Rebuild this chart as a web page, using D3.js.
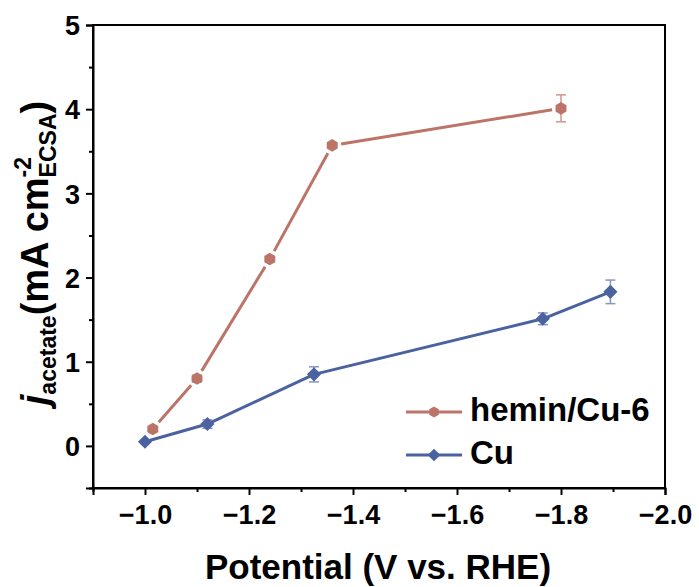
<!DOCTYPE html>
<html>
<head>
<meta charset="utf-8">
<script src="https://cdn.jsdelivr.net/npm/d3@7/dist/d3.min.js"></script>
<style>
  html, body { margin: 0; padding: 0; background: #fff; }
  svg { display: block; font-family: "Liberation Sans", Arial, sans-serif; }
</style>
</head>
<body>
<svg id="chart" width="699" height="587"></svg>
<script>
// Acetate partial current density vs. potential
const heminPotential = [-1.015, -1.10, -1.24, -1.36, -1.80];
const heminCurrent   = [0.20, 0.80, 2.22, 3.57, 4.01];
const heminError     = [0.02, 0.04, 0.03, 0.02, 0.16];

const cuPotential = [-1.00, -1.12, -1.325, -1.765, -1.895];
const cuCurrent   = [0.05, 0.26, 0.85, 1.51, 1.83];
const cuError     = [0.02, 0.05, 0.09, 0.07, 0.14];

const xMajorTicks = [-1.0, -1.2, -1.4, -1.6, -1.8, -2.0];
const xMinorTicks = [-0.9, -1.1, -1.3, -1.5, -1.7, -1.9];
const yMajorTicks = [0, 1, 2, 3, 4, 5];
const yMinorTicks = [-0.5, 0.5, 1.5, 2.5, 3.5, 4.5];

const seriesNames = ["hemin/Cu-6", "Cu"];

const heminColor = "#bd7468", heminErrColor = "#cc968e";
const cuColor = "#4a62a0", cuErrColor = "#8596c2";

const svg = d3.select("#chart");
const plot = { left: 93, right: 665, top: 25, bottom: 488 };

const x = d3.scaleLinear().domain([-0.9, -2.0]).range([plot.left, plot.right]);
const y = d3.scaleLinear().domain([-0.5, 5]).range([plot.bottom, plot.top]);

const fmt = d => d3.format(".1f")(d).replace("-", "\u2212");

// frame
svg.append("rect")
  .attr("x", plot.left).attr("y", plot.top)
  .attr("width", plot.right - plot.left).attr("height", plot.bottom - plot.top)
  .attr("fill", "none").attr("stroke", "#000").attr("stroke-width", 2);

// bottom axis
const xAxis = svg.append("g").attr("transform", `translate(0,${plot.bottom})`)
  .call(d3.axisBottom(x).tickValues(xMajorTicks).tickFormat(fmt).tickSize(7).tickPadding(10));
svg.append("g").attr("transform", `translate(0,${plot.bottom})`)
  .call(d3.axisBottom(x).tickValues(xMinorTicks).tickFormat("").tickSize(4))
  .call(g => g.select(".domain").remove());

// left axis
const yAxis = svg.append("g").attr("transform", `translate(${plot.left},0)`)
  .call(d3.axisLeft(y).tickValues(yMajorTicks).tickFormat(d3.format("d")).tickSize(7).tickPadding(6));
svg.append("g").attr("transform", `translate(${plot.left},0)`)
  .call(d3.axisLeft(y).tickValues(yMinorTicks).tickFormat("").tickSize(4))
  .call(g => g.select(".domain").remove());

svg.selectAll(".tick line").attr("stroke", "#000").attr("stroke-width", 2);
svg.selectAll(".domain").attr("stroke", "#000").attr("stroke-width", 2);
svg.selectAll(".tick text")
  .attr("fill", "#000")
  .style("font-size", "27px").style("font-weight", "bold")
  .style("font-family", "'Liberation Sans', Arial, sans-serif");
xAxis.selectAll(".tick text").attr("dy", "0.72em");
yAxis.selectAll(".tick text").attr("dy", "0.36em");

// axis titles
svg.append("text")
  .attr("x", (plot.left + plot.right) / 2 - 1).attr("y", 579)
  .attr("text-anchor", "middle")
  .style("font-size", "35px").style("font-weight", "bold")
  .text("Potential (V vs. RHE)");

const yTitle = svg.append("text")
  .attr("transform", "translate(48,253) rotate(-90)")
  .attr("text-anchor", "middle")
  .style("font-weight", "bold");
yTitle.append("tspan").style("font-size", "38px").style("font-style", "italic").text("j");
yTitle.append("tspan").style("font-size", "23px").attr("dy", 8).text("acetate");
yTitle.append("tspan").style("font-size", "38px").attr("dy", -8).text("(mA cm");
const sup = yTitle.append("tspan").style("font-size", "23px").attr("dy", -17).text("-2");
const sub = yTitle.append("tspan").style("font-size", "23px").attr("dy", 25).text("ECSA");
yTitle.append("tspan").style("font-size", "38px").attr("dy", -8).text(")");
sub.attr("dx", -sup.node().getComputedTextLength());

// marker shapes
const hexPath = r => {
  const pts = d3.range(6).map(i => {
    const a = Math.PI / 6 + i * Math.PI / 3;
    return [r * Math.cos(a), r * Math.sin(a)];
  });
  return d3.line()(pts) + "Z";
};
const diamondPath = d3.symbol().type(d3.symbolSquare).size(100)();

function drawSeries(xs, ys, es, color, errColor, marker, rotate, gap) {
  const pts = xs.map((v, i) => ({ px: x(v), py: y(ys[i]), c: ys[i], e: es[i] }));
  const g = svg.append("g");
  // connecting segments, trimmed near markers when a gap is given
  for (let i = 0; i < pts.length - 1; i++) {
    const a = pts[i], b = pts[i + 1];
    const dx = b.px - a.px, dy = b.py - a.py, len = Math.hypot(dx, dy);
    const ux = dx / len, uy = dy / len;
    g.append("line")
      .attr("x1", a.px + ux * gap).attr("y1", a.py + uy * gap)
      .attr("x2", b.px - ux * gap).attr("y2", b.py - uy * gap)
      .attr("stroke", color).attr("stroke-width", 3);
  }
  // error bars
  pts.forEach(p => {
    const y1 = y(p.c + p.e), y2 = y(p.c - p.e);
    g.append("line").attr("x1", p.px).attr("x2", p.px).attr("y1", y1).attr("y2", y2)
      .attr("stroke", errColor).attr("stroke-width", 1.5);
    [y1, y2].forEach(yy => g.append("line")
      .attr("x1", p.px - 5).attr("x2", p.px + 5).attr("y1", yy).attr("y2", yy)
      .attr("stroke", errColor).attr("stroke-width", 1.5));
  });
  // markers
  g.selectAll("path.m").data(pts).join("path")
    .attr("class", "m")
    .attr("d", marker)
    .attr("transform", d => `translate(${d.px},${d.py}) rotate(${rotate})`)
    .attr("fill", color);
}

drawSeries(heminPotential, heminCurrent, heminError, heminColor, heminErrColor, hexPath(6.3), 0, 9);
drawSeries(cuPotential, cuCurrent, cuError, cuColor, cuErrColor, diamondPath, 45, 0);

// legend
const legend = svg.append("g");
const legendRows = [
  { name: seriesNames[0], color: heminColor, marker: hexPath(5.5), rot: 0, y: 412 },
  { name: seriesNames[1], color: cuColor, marker: d3.symbol().type(d3.symbolSquare).size(80)(), rot: 45, y: 455 }
];
legendRows.forEach(r => {
  legend.append("line").attr("x1", 406).attr("x2", 462).attr("y1", r.y).attr("y2", r.y)
    .attr("stroke", r.color).attr("stroke-width", 3);
  legend.append("path").attr("d", r.marker)
    .attr("transform", `translate(434,${r.y}) rotate(${r.rot})`).attr("fill", r.color);
  legend.append("text").attr("x", 470).attr("y", r.y + 9)
    .style("font-size", "33px").style("font-weight", "bold").text(r.name);
});
</script>
</body>
</html>
